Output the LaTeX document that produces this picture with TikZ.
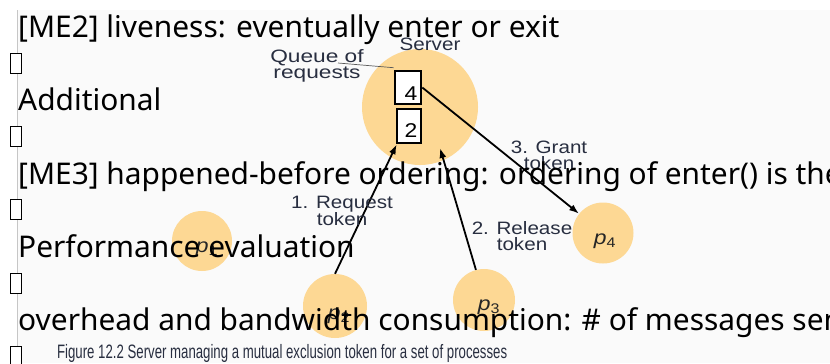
\documentclass[tikz,border=0pt]{standalone}
\usepackage{fontspec}
\setmainfont{Noto Sans}
\newfontfamily\labfont{Liberation Sans}
\usetikzlibrary{arrows.meta}
\definecolor{procfill}{RGB}{253,216,148}
\definecolor{panel}{RGB}{250,250,250}
\definecolor{labcol}{RGB}{40,46,64}
\tikzset{
  proc/.style={circle, fill=procfill, draw=none, minimum size=#1, inner sep=0},
  qbox/.style={draw=black, line width=2.6bp, fill=white, inner sep=0},
  arr/.style={line width=1.8bp, -{Latex[length=10bp,width=7bp]}},
  lab/.style={font=\labfont\fontsize{18}{16}\selectfont, text=labcol, align=center, inner sep=0, xscale=1.15, transform shape},
  plab/.style={lab, font=\labfont\fontsize{20}{20}\selectfont\itshape, text=black!85},
  bigtxt/.style={font=\fontsize{30}{30}\selectfont, text=black, inner sep=0, anchor=base west},
  tofu/.style={draw=black, line width=0.7bp, fill=white, minimum width=11bp, minimum height=20bp, inner sep=0},
}
\begin{document}
\begin{tikzpicture}[x=1bp,y=-1bp]
\clip (0,0) rectangle (830,363);
\fill[white] (0,0) rectangle (830,363);
\fill[panel] (17,10) rectangle (830,363);
\draw[gray!45, line width=1bp] (17,10) -- (17,363);

% server and processes
\node[proc=116bp] (server) at (420,107) {};
\node[proc=60bp] (p1) at (202,241) {};
\node[proc=64bp] (p2) at (335,306) {};
\node[proc=62bp] (p3) at (484,300) {};
\node[proc=61bp] (p4) at (603,233) {};

\node[lab, anchor=south] (srvlab) at (430,51) {Server};

% queue
\node[qbox, minimum width=26bp, minimum height=33bp] (q4) at (408,87.5) {};
\node[qbox, minimum width=24bp, minimum height=34bp] (q2) at (409,126) {};
\node[lab, font=\labfont\fontsize{20}{20}\selectfont, text=black] (q4t) at (411,94) {4};
\node[lab, font=\labfont\fontsize{20}{20}\selectfont, text=black] (q2t) at (411,131) {2};
\node[lab, xscale=1.1] (queue) at (317,66) {Queue of\\requests};
\coordinate (qstart) at (338,63);
\draw[gray!70!black, line width=0.7bp] (qstart) -- ([yshift=2]q4.north west);

% process labels
\node[plab] (p1t) at (207,249) {p\textsubscript{\upshape 1}};
\node[plab] (p2t) at (339,316) {p\textsubscript{\upshape 2}};
\node[plab] (p3t) at (489,307) {p\textsubscript{\upshape 3}};
\node[plab] (p4t) at (605,241) {p\textsubscript{\upshape 4}};

% arrows
\coordinate (reltip) at (440,148);
\draw[arr] (p2.north) -- ([xshift=1]q2.south west);
\draw[arr] (p3.105) -- (reltip);
\draw[arr] (q4.east) -- (p4);

% arrow labels
\node[lab] (grant) at (549,155) {3. Grant\\token};
\node[lab] (req) at (342,211) {1. Request\\token};
\node[lab] (rel) at (522,236) {2. Release\\token};

% caption
\node[lab, font=\labfont\fontsize{19.5}{19.5}\selectfont, anchor=base west, xscale=0.68/1.15] (cap) at (57,358) {Figure 12.2 Server managing a mutual exclusion token for a set of processes};

% overlay slide text
\node[bigtxt] (l1) at (18,37) {[ME2] liveness: eventually enter or exit};
\node[bigtxt] (l2) at (18,110) {Additional};
\node[bigtxt] (l3) at (18,184) {[ME3] happened-before ordering: ordering of enter() is the};
\node[bigtxt] (l4) at (18,257) {Performance evaluation};
\node[bigtxt] (l5) at (18,330) {overhead and bandwidth consumption: \# of messages sent};

\node[tofu] (b1) at (15.5,63) {};
\node[tofu] (b2) at (15.5,136) {};
\node[tofu] (b3) at (15.5,209) {};
\node[tofu] (b4) at (15.5,283) {};
\node[tofu] (b5) at (15.5,356) {};
\end{tikzpicture}
\end{document}
